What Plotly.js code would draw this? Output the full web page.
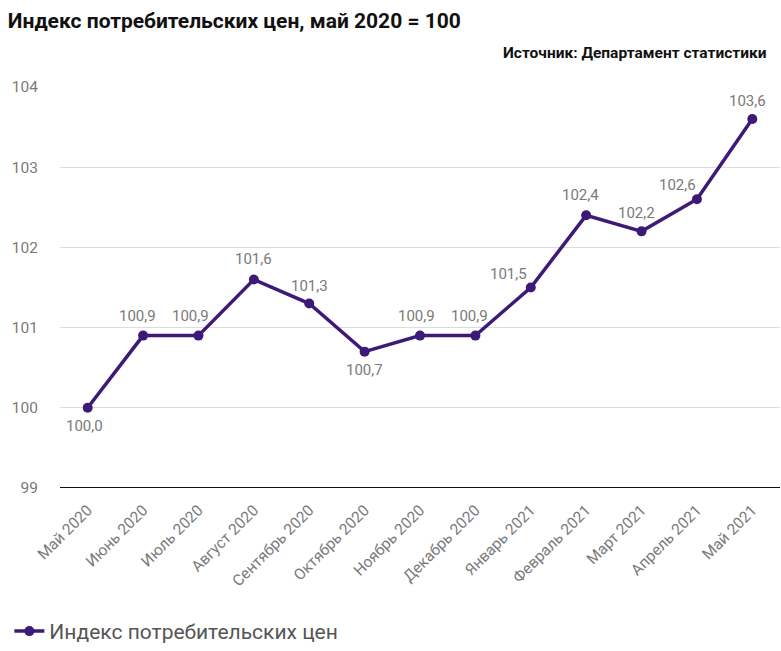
<!DOCTYPE html>
<html><head><meta charset="utf-8">
<script src="https://cdn.plot.ly/plotly-3.0.1.min.js"></script>
<style>html,body{margin:0;padding:0;background:#fff}#c{width:781px;height:651px}</style>
</head><body><div id="c"></div>
<script>
const months = ["Май 2020","Июнь 2020","Июль 2020","Август 2020","Сентябрь 2020","Октябрь 2020","Ноябрь 2020","Декабрь 2020","Январь 2021","Февраль 2021","Март 2021","Апрель 2021","Май 2021"];
const cpi = [100.0,100.9,100.9,101.6,101.3,100.7,100.9,100.9,101.5,102.4,102.2,102.6,103.6];
const seriesName = "Индекс потребительских цен";
const yTicks = [99,100,101,102,103,104];

// label placement (style): [xshift, yshift] in px
const labelShift = [[-3,-18],[-6,20],[-8,20],[0,20],[0,18],[0,-18],[-4,20],[-6,20],[-22,14],[-6,20],[-5,18],[-19,14],[-5,18]];

const trace = {
  x: months, y: cpi, type: "scatter", mode: "lines+markers",
  name: seriesName,
  line: {color: "#3d1a78", width: 3.5},
  marker: {color: "#3d1a78", size: 10},
  cliponaxis: false
};
const valueLabels = months.map((m, i) => ({
  x: m, y: cpi[i], xref: "x", yref: "y", showarrow: false,
  text: cpi[i].toFixed(1).replace(".", ","),
  xshift: labelShift[i][0], yshift: labelShift[i][1], yanchor: "middle",
  font: {family: "Roboto", size: 15, color: "#7a7a7a"}
}));
const layout = {
  width: 781, height: 651,
  margin: {l: 60, r: 1, t: 87, b: 163},
  paper_bgcolor: "#fff", plot_bgcolor: "#fff",
  font: {family: "Roboto", color: "#7a7a7a"},
  title: {text: "<b>Индекс потребительских цен, май 2020 = 100</b>", xref: "container", yref: "container",
          x: 0.01, xanchor: "left", y: 0.968, yanchor: "middle",
          font: {family: "Roboto", size: 21, color: "#111"}},
  xaxis: {type: "category", tickangle: -45, tickfont: {size: 15.5, color: "#7a7a7a"},
          showgrid: false, showline: false, zeroline: false, ticks: "outside", ticklen: 6, tickcolor: "rgba(0,0,0,0)",
          range: [-0.5, 12.5]},
  yaxis: {range: [99, 104], tickvals: yTicks, tickfont: {size: 15.5, color: "#7a7a7a"},
          gridcolor: "#dcdcdc", gridwidth: 1, zeroline: false, showline: false,
          ticks: "outside", ticklen: 18, tickcolor: "rgba(0,0,0,0)"},
  shapes: [{type: "line", xref: "paper", yref: "y", x0: 0, x1: 1, y0: 99, y1: 99, line: {color: "#111", width: 2}}],
  annotations: valueLabels.concat([{text: "<b>Источник: Департамент статистики</b>", xref: "paper", yref: "paper",
                 x: 0.983, y: 1.085, xanchor: "right", yanchor: "middle", showarrow: false,
                 font: {family: "Roboto", size: 15.5, color: "#111"}}]),
  showlegend: true,
  legend: {orientation: "h", xref: "container", yref: "container", x: 0.012, y: 0.03, xanchor: "left", yanchor: "middle",
           font: {family: "Roboto", size: 21, color: "#555"}}
};
Plotly.newPlot("c", [trace], layout, {displayModeBar: false});
</script></body></html>
